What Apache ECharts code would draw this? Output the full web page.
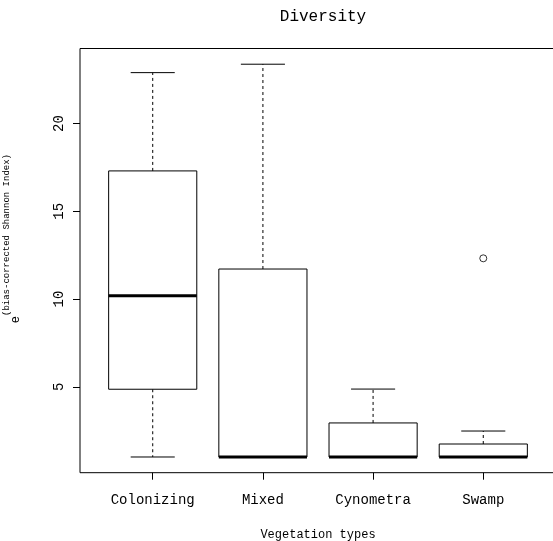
<!DOCTYPE html>
<html>
<head>
<meta charset="utf-8">
<script src="https://cdn.jsdelivr.net/npm/echarts@6/dist/echarts.min.js"></script>
<style>html,body{margin:0;padding:0;background:#fff}#c{width:553px;height:541px}</style>
</head>
<body>
<div id="c"></div>
<script>
const categories = ['Colonizing', 'Mixed', 'Cynometra', 'Swamp'];
const whiskerLow = [1, 1, 1, 1];
const q1 = [4.86, 1, 1, 1];
const median = [10.19, 1, 1, 1];
const q3 = [17.3, 11.71, 2.94, 1.74];
const whiskerHigh = [22.9, 23.38, 4.87, 2.48];
const outlierCategory = ['Swamp'];
const outlierValue = [12.32];
const yTicks = [5, 10, 15, 20];

const FONT = "'Liberation Mono', 'DejaVu Sans Mono', monospace";

const boxData = categories.map((c, i) => [i + 1, whiskerLow[i], q1[i], median[i], q3[i], whiskerHigh[i]]);
const outData = outlierCategory.map((c, i) => [categories.indexOf(c) + 1, outlierValue[i]]);

const chart = echarts.init(document.getElementById('c'), null, {renderer: 'canvas'});

function renderBox(params, api) {
  const x = api.value(0);
  const lo = api.value(1), a = api.value(2), m = api.value(3), b = api.value(4), hi = api.value(5);
  const w = api.size([0.8, 0])[0];
  const cap = w / 4;
  const pLo = api.coord([x, lo]), pA = api.coord([x, a]), pM = api.coord([x, m]), pB = api.coord([x, b]), pHi = api.coord([x, hi]);
  const cx = pM[0];
  const thin = {stroke: '#000', lineWidth: 1, fill: null};
  const dashed = {stroke: '#000', lineWidth: 1, lineDash: [3, 3]};
  const children = [];
  if (pHi[1] < pB[1]) children.push({type: 'line', shape: {x1: cx, y1: pB[1], x2: cx, y2: pHi[1]}, style: dashed});
  if (pLo[1] > pA[1]) children.push({type: 'line', shape: {x1: cx, y1: pA[1], x2: cx, y2: pLo[1]}, style: dashed});
  children.push({type: 'line', shape: {x1: cx - cap, y1: pHi[1], x2: cx + cap, y2: pHi[1]}, style: thin});
  children.push({type: 'line', shape: {x1: cx - cap, y1: pLo[1], x2: cx + cap, y2: pLo[1]}, style: thin});
  children.push({type: 'rect', shape: {x: cx - w / 2, y: pB[1], width: w, height: pA[1] - pB[1]}, style: {stroke: '#000', lineWidth: 1, fill: '#fff'}});
  children.push({type: 'line', shape: {x1: cx - w / 2, y1: pM[1], x2: cx + w / 2, y2: pM[1]}, style: {stroke: '#000', lineWidth: 3}});
  return {type: 'group', children};
}

chart.setOption({
  animation: false,
  backgroundColor: '#fff',
  title: {
    text: 'Diversity', left: 318, top: 4, textAlign: 'center',
    textStyle: {fontFamily: FONT, fontSize: 16, fontWeight: 'normal', color: '#000'}
  },
  grid: {left: 80, top: 48.5, width: 476, height: 424.2, show: true, borderColor: '#000', borderWidth: 1,
    backgroundColor: 'transparent', containLabel: false, outerBoundsMode: 'none'},
  xAxis: {
    type: 'value', min: 0.34, max: 4.66,
    name: 'Vegetation types', nameLocation: 'middle', nameGap: 56,
    nameTextStyle: {fontFamily: FONT, fontSize: 12, color: '#000'},
    axisLine: {show: false},
    axisTick: {show: true, length: 7, customValues: [1, 2, 3, 4], lineStyle: {color: '#000'}},
    axisLabel: {customValues: [1, 2, 3, 4], formatter: v => categories[Math.round(v) - 1] || '', margin: 21,
      fontFamily: FONT, fontSize: 14, color: '#000'},
    splitLine: {show: false}
  },
  yAxis: {
    type: 'value', min: 0.105, max: 24.275,
    name: '{e|e}{s|(bias-corrected Shannon Index)}', nameLocation: 'middle', nameGap: 58, nameRotate: 90,
    nameTextStyle: {
      color: '#000',
      padding: [0, 0, 0, 44],
      rich: {
        e: {fontFamily: FONT, fontSize: 12, color: '#000', verticalAlign: 'bottom', lineHeight: 20},
        s: {fontFamily: FONT, fontSize: 9, color: '#000', verticalAlign: 'top', lineHeight: 20}
      }
    },
    axisLine: {show: false},
    axisTick: {show: true, length: 7, customValues: yTicks, lineStyle: {color: '#000'}},
    axisLabel: {customValues: yTicks, rotate: 90, margin: 14, fontFamily: FONT, fontSize: 14, color: '#000'},
    splitLine: {show: false}
  },
  series: [
    {type: 'custom', renderItem: renderBox, data: boxData, encode: {x: 0, y: [1, 2, 3, 4, 5]}, clip: false},
    {type: 'scatter', data: outData, symbol: 'circle', symbolSize: 7,
      itemStyle: {color: '#fff', borderColor: '#000', borderWidth: 1}}
  ]
});
</script>
</body>
</html>
